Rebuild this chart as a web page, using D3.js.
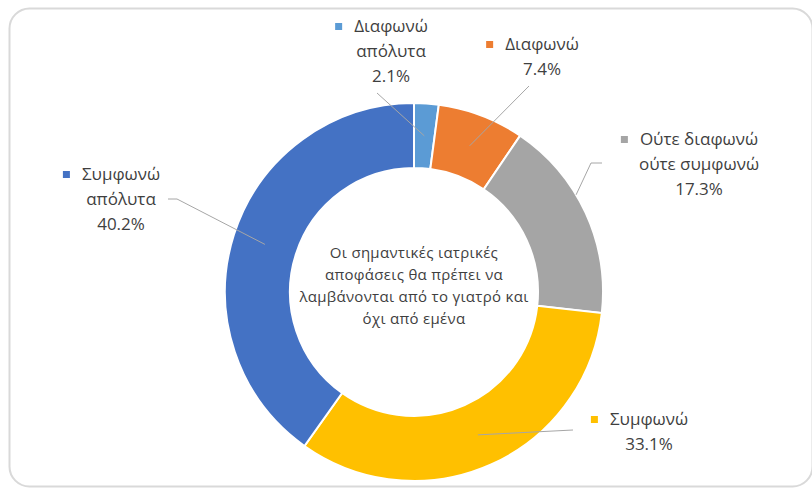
<!DOCTYPE html>
<html>
<head>
<meta charset="utf-8">
<script src="https://cdn.jsdelivr.net/npm/d3@7"></script>
<style>
  body { margin: 0; background: #fff; }
  svg text { font-family: "Open Sans", "Noto Sans", sans-serif; fill: #3f3f3f; }
</style>
</head>
<body>
<div class="chart"></div>
<script>
// data
const categories = ["Διαφωνώ απόλυτα", "Διαφωνώ", "Ούτε διαφωνώ ούτε συμφωνώ", "Συμφωνώ", "Συμφωνώ απόλυτα"];
const values = [2.1, 7.4, 17.3, 33.1, 40.2];
const colors = ["#5b9bd5", "#ed7d31", "#a5a5a5", "#ffc000", "#4472c4"];
const labelLines = [["Διαφωνώ", "απόλυτα"], ["Διαφωνώ"], ["Ούτε διαφωνώ", "ούτε συμφωνώ"], ["Συμφωνώ"], ["Συμφωνώ", "απόλυτα"]];
const centerLines = ["Οι σημαντικές ιατρικές", "αποφάσεις θα πρέπει να", "λαμβάνονται από το γιατρό και", "όχι από εμένα"];

const w = 812;
const h = 489;
const cx = 414, cy = 292;
const outerR = 189, innerR = 124;
const lineH = 25;

// label placement: text centre, first baseline, leader points (label side), where leader hits the slice
const labelPos = [
  { x: 391, y: 32, lead: [[377, 93]], t: 0.5, r: 0.5 },
  { x: 542, y: 50, lead: [[529, 86]], t: 0.5, r: 0.5 },
  { x: 699, y: 145, lead: [[602, 163], [591, 163]], t: 0.4, r: 1 },
  { x: 649, y: 425, lead: [[573, 430]], t: 0.5, r: 0.5 },
  { x: 121, y: 180, lead: [[168, 199], [177, 199]], t: 0.5, r: 0.5 }
];

const svg = d3.select(".chart")
  .append("svg")
  .attr("width", w)
  .attr("height", h);

// frame
svg.append("rect")
  .attr("x", 9.5)
  .attr("y", 8.5)
  .attr("width", 803)
  .attr("height", 478)
  .attr("rx", 20)
  .attr("fill", "none")
  .attr("stroke", "#d9d9d9")
  .attr("stroke-width", 2);

const pie = d3.pie().sort(null).value(d => d);
const arcs = pie(values);
const arc = d3.arc().innerRadius(innerR).outerRadius(outerR);

const g = svg.append("g").attr("transform", "translate(" + cx + "," + cy + ")");

g.selectAll("path")
  .data(arcs)
  .enter()
  .append("path")
  .attr("d", arc)
  .attr("fill", (d, i) => colors[i])
  .attr("stroke", "#fff")
  .attr("stroke-width", 2);

// leader lines
const line = d3.line();
arcs.forEach((d, i) => {
  const p = labelPos[i];
  const a = d.startAngle + (d.endAngle - d.startAngle) * p.t;
  const r = innerR + (outerR - innerR) * p.r;
  const end = [cx + r * Math.sin(a), cy - r * Math.cos(a)];
  svg.append("path")
    .attr("d", line(p.lead.concat([end])))
    .attr("fill", "none")
    .attr("stroke", "#a6a6a6")
    .attr("stroke-width", 1);
});

// labels
arcs.forEach((d, i) => {
  const p = labelPos[i];
  const lines = labelLines[i].concat([values[i].toFixed(1) + "%"]);
  const txt = svg.append("text")
    .attr("class", "label")
    .attr("text-anchor", "middle")
    .style("font-size", "17px");
  lines.forEach((s, k) => {
    txt.append("tspan")
      .attr("x", p.x)
      .attr("y", p.y + k * lineH)
      .text(s);
  });
  const first = txt.select("tspan").node().getComputedTextLength();
  svg.append("rect")
    .attr("x", p.x - first / 2 - 19)
    .attr("y", p.y - 9)
    .attr("width", 7)
    .attr("height", 7)
    .attr("fill", colors[i]);
});

// centre text
const ct = svg.append("text")
  .attr("text-anchor", "middle")
  .style("font-size", "15px")
  .style("letter-spacing", "0.3px");
centerLines.forEach((s, k) => {
  ct.append("tspan")
    .attr("x", cx)
    .attr("y", 258 + k * 22)
    .text(s);
});
</script>
</body>
</html>
